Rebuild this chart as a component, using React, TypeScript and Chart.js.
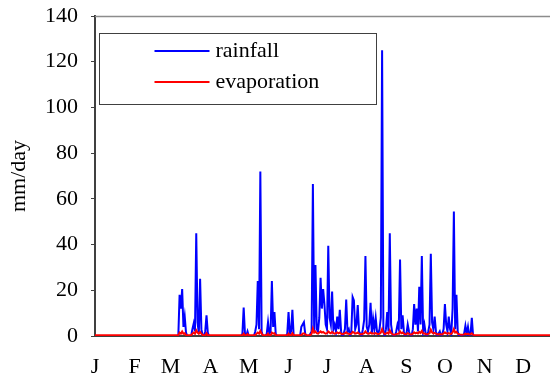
import React, { useEffect, useRef } from "react";
import { Chart, registerables } from "chart.js";

Chart.register(...registerables);

const FONT = "'Liberation Serif', 'Times New Roman', serif";

const monthLabels = ["J", "F", "M", "A", "M", "J", "J", "A", "S", "O", "N", "D"];
const monthStartDays = [0, 31, 59, 90, 120, 151, 181, 212, 243, 273, 304, 334];
const yTickValues = [0, 20, 40, 60, 80, 100, 120, 140];
const dayCount = 365;

// rainfall (mm/day): days with rain, all other days are 0
const rainDays = [
  66, 67, 68, 69, 70, 71, 76, 77, 78, 79, 80, 81, 82, 83, 86, 87, 88,
  115, 116, 117, 119, 125, 126, 127, 128, 129, 130, 134, 135, 136, 137, 138, 139, 140, 141,
  150, 151, 152, 153, 154, 161, 162, 163, 164,
  168, 169, 170, 171, 172, 173, 174, 175, 176, 177, 178, 179, 180, 181, 182, 183, 184, 185,
  186, 187, 188, 189, 190, 191, 192, 194, 195, 196, 197, 198, 200, 201, 202, 203, 204, 205,
  206, 207, 209, 210, 211, 212, 213, 214, 215, 216, 217, 218, 219, 220, 221, 222, 223, 224,
  225, 227, 228, 229, 230, 231, 232, 235, 236, 237, 238, 239, 240, 241, 243, 244, 245, 248,
  249, 250, 251, 252, 253, 254, 255, 256, 257, 258, 260, 261, 262, 263, 264, 265, 266, 268,
  269, 271, 272, 273, 274, 275, 276, 277, 278, 279, 280, 281, 282, 283, 288, 289, 290, 291,
  293, 294,
];
const rainMm = [
  18, 12, 20.5, 4, 8.5, 1.5, 3, 5.5, 2, 45, 6, 1, 25, 3, 2, 9, 1.5,
  1, 12.5, 1, 2, 2, 5, 24, 3, 72, 2, 1, 6, 1, 2, 24, 4, 10.5, 1,
  1, 10.5, 1, 2, 11.5, 4, 5, 6, 1,
  1, 2, 66.5, 2, 31, 3, 2, 8, 25.5, 12, 20.5, 14, 5, 3, 39.5, 8, 5, 19.5,
  3, 5, 2, 8.5, 3, 11.5, 2, 1, 3, 16, 2, 3, 2, 17, 15.5, 3, 5, 13.5,
  2, 1, 3, 7, 35, 4, 2, 5, 14.5, 1, 7.5, 3, 8, 2, 1, 3, 8, 125,
  2, 3, 10.5, 2, 45, 5, 1, 2, 5, 3, 33.5, 3, 9, 2, 1, 5, 2, 3,
  14, 5, 12, 2, 21.5, 5, 35, 2, 5, 1, 2, 5, 36, 6, 3, 8.5, 2, 1,
  2, 1, 3, 14, 5, 2, 8.5, 3, 1, 12, 54.5, 3, 18, 2, 1, 4.5, 1, 4,
  1, 8,
];

// evaporation (mm/day): dry-day level, plus the days that differ from it
const evapDryMm = 0.3;
const evapDays = [
  66, 67, 68, 69, 70, 76, 77, 78, 79, 80, 81, 82, 83, 87,
  116, 119, 126, 127, 128, 129, 130, 135, 138, 139, 140, 151, 154, 162, 163, 164,
  169, 170, 171, 172, 173, 174, 175, 176, 177, 178, 179, 180, 181, 182, 183, 184, 185,
  186, 187, 188, 189, 190, 191, 192, 193, 194, 195, 196, 197, 198, 199, 200, 201, 202,
  203, 204, 205, 206, 207, 208, 209, 210, 211, 212, 213, 214, 215, 216, 217, 218, 219,
  220, 221, 222, 223, 224, 225, 226, 227, 228, 229, 230, 231, 232, 233, 234, 235, 236,
  237, 238, 239, 240, 241, 242, 243, 244, 245, 246, 247, 248, 249, 250, 251, 252, 253,
  254, 255, 256, 257, 258, 259, 260, 261, 262, 263, 264, 265, 266, 267, 268, 269, 270,
  271, 272, 273, 274, 275, 276, 277, 278, 279, 280, 281, 282, 283, 284, 285, 286, 287,
  288, 289, 290, 291, 292, 293, 294, 295,
];
const evapMm = [
  1.5, 1, 2, 1, 1.2, 1, 1.5, 1, 2.5, 1.5, 1, 1.8, 1, 1.2,
  1, 0.8, 1, 1.5, 1, 2.2, 1, 1, 1.5, 1, 1.2, 1, 1.2, 1, 1.2, 0.8,
  1, 3.2, 1.5, 2, 1.2, 1, 1.5, 2, 1.5, 1.8, 1.3, 1, 1.2, 2, 1.5, 1.2, 1.8,
  1.2, 1, 1.3, 1.6, 1.2, 1.5, 1, 0.8, 1, 1.2, 1.6, 1.1, 1, 0.8, 1, 1.8, 1.5,
  1, 1.2, 1.5, 1, 0.8, 0.8, 1, 1.2, 2, 1.3, 1, 1.1, 1.5, 1, 1.2, 1, 1.3,
  1, 0.9, 1, 1.5, 3, 1.5, 0.8, 1, 1.4, 1, 2.4, 1.3, 0.8, 0.6, 0.6, 0.8, 1,
  1, 2, 1.2, 1.5, 1, 0.7, 0.8, 1.2, 0.9, 0.7, 0.7, 1, 1.6, 1.2, 1.5, 1.1, 1.8,
  1.3, 2.2, 1.2, 1.1, 0.9, 0.7, 0.9, 1.2, 2.8, 1.6, 1.1, 1.4, 1, 0.7, 0.8, 0.9, 0.7,
  0.8, 1.1, 1.6, 1.2, 1, 1.3, 1, 0.9, 1.6, 3, 1.5, 1.8, 1, 0.8, 0.6, 0.5, 0.6,
  0.7, 1, 0.8, 1, 0.7, 0.8, 1.2, 0.6,
];

const seriesNames = ["rainfall", "evaporation"];
const seriesColors = ["#0000ff", "#ff0000"];

function buildSeries(days: number[], values: number[], fill: number) {
  const out: { x: number; y: number }[] = [];
  for (let d = 0; d < dayCount; d++) out.push({ x: d, y: fill });
  days.forEach((d, i) => {
    out[d].y = values[i];
  });
  return out;
}

const framePlugin = {
  id: "frameTop",
  beforeDatasetsDraw(chart: any) {
    const { ctx, chartArea } = chart;
    ctx.save();
    ctx.strokeStyle = "#8c8c8c";
    ctx.lineWidth = 1.5;
    ctx.beginPath();
    ctx.moveTo(chartArea.left, chartArea.top + 0.5);
    ctx.lineTo(chartArea.right, chartArea.top + 0.5);
    ctx.stroke();
    ctx.restore();
  },
};

const legendBoxPlugin = {
  id: "legendBox",
  afterDraw(chart: any) {
    const { ctx, chartArea } = chart;
    const left = chartArea.left + 4.5;
    const top = chartArea.top + 17.5;
    const w = 277;
    const h = 71;
    ctx.save();
    ctx.strokeStyle = "#404040";
    ctx.lineWidth = 1;
    ctx.strokeRect(left, top, w, h);
    ctx.font = `22px ${FONT}`;
    ctx.textBaseline = "alphabetic";
    ctx.textAlign = "left";
    chart.data.datasets.forEach((ds: any, i: number) => {
      const y = top + 17.5 + i * 31;
      ctx.strokeStyle = ds.borderColor;
      ctx.lineWidth = 2;
      ctx.beginPath();
      ctx.moveTo(left + 55, y);
      ctx.lineTo(left + 110, y);
      ctx.stroke();
      ctx.fillStyle = "#000";
      ctx.fillText(ds.label, left + 116, y + 5.5);
    });
    ctx.restore();
  },
};

export default function App() {
  const canvasRef = useRef<HTMLCanvasElement | null>(null);

  useEffect(() => {
    if (!canvasRef.current) return;
    const chart = new Chart(canvasRef.current, {
      type: "line",
      data: {
        datasets: [
          {
            label: seriesNames[0],
            data: buildSeries(rainDays, rainMm, 0),
            borderColor: seriesColors[0],
            backgroundColor: seriesColors[0],
            borderWidth: 2,
            pointRadius: 0,
            tension: 0,
            order: 1,
          },
          {
            label: seriesNames[1],
            data: buildSeries(evapDays, evapMm, evapDryMm),
            borderColor: seriesColors[1],
            backgroundColor: seriesColors[1],
            borderWidth: 2,
            pointRadius: 0,
            tension: 0,
            order: 0,
          },
        ],
      },
      options: {
        animation: false,
        responsive: true,
        maintainAspectRatio: false,
        events: [],
        layout: { padding: { left: 0, right: 0, top: 16, bottom: 0 } },
        plugins: {
          legend: { display: false },
          tooltip: { enabled: false },
        },
        scales: {
          x: {
            type: "linear",
            min: 0,
            max: 355,
            afterBuildTicks: (scale: any) => {
              scale.ticks = monthStartDays.map((v) => ({ value: v }));
            },
            afterFit: (scale: any) => {
              scale.height = 42;
            },
            ticks: {
              autoSkip: false,
              maxRotation: 0,
              padding: 10,
              color: "#000",
              font: { family: FONT, size: 22 },
              callback: (_v: any, i: number) => monthLabels[i],
            },
            grid: { display: false },
            border: { display: true, color: "#404040", width: 2 },
          },
          y: {
            min: 0,
            max: 140,
            afterBuildTicks: (scale: any) => {
              scale.ticks = yTickValues.map((v) => ({ value: v }));
            },
            afterFit: (scale: any) => {
              scale.width = 95;
              scale.paddingTop = 0;
              scale.paddingBottom = 0;
            },
            ticks: {
              padding: 13,
              color: "#000",
              font: { family: FONT, size: 22 },
            },
            grid: {
              display: true,
              drawOnChartArea: false,
              drawTicks: true,
              tickLength: 4,
              color: "#404040",
            },
            border: { display: true, color: "#404040", width: 2 },
            title: {
              display: true,
              text: "mm/day",
              color: "#000",
              font: { family: FONT, size: 22 },
              padding: { top: 6, bottom: 0 },
            },
          },
        },
      },
      plugins: [framePlugin, legendBoxPlugin],
    });
    return () => chart.destroy();
  }, []);

  return (
    <div style={{ position: "fixed", left: 0, top: 0, width: 550, height: 378, background: "#fff" }}>
      <canvas ref={canvasRef} />
    </div>
  );
}
